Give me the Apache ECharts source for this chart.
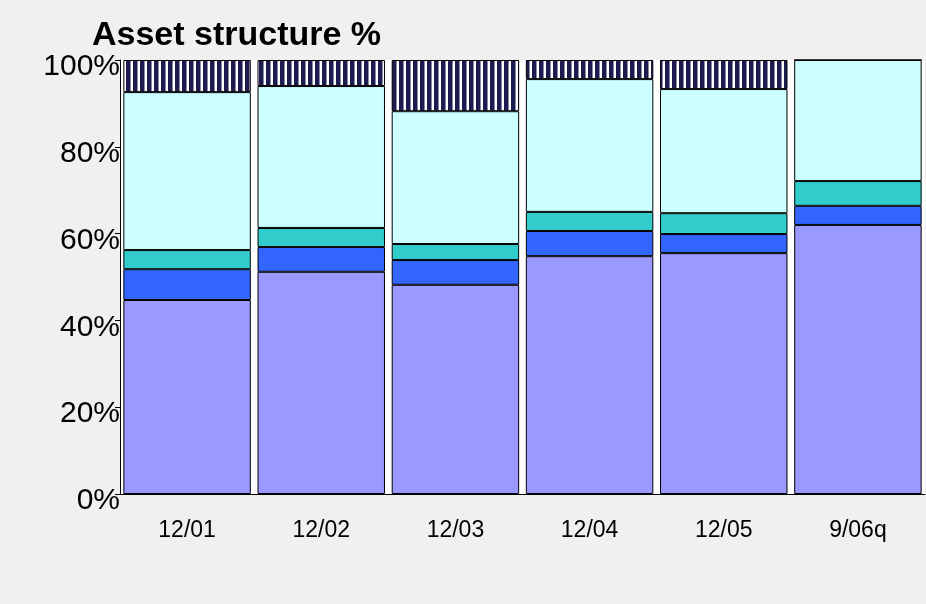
<!DOCTYPE html>
<html>
<head>
<meta charset="utf-8">
<script src="https://cdn.jsdelivr.net/npm/echarts@6/dist/echarts.min.js"></script>
<style>
html, body { margin: 0; padding: 0; background: #f0f0f0; }
#main { width: 926px; height: 604px; }
</style>
</head>
<body>
<div id="main"></div>
<script>
var categories = ['12/01', '12/02', '12/03', '12/04', '12/05', '9/06q'];
var purpleVals = [44.7, 51.2, 48.2, 54.8, 55.5, 62.0];
var blueVals = [7.1, 5.7, 5.7, 5.8, 4.4, 4.4];
var tealVals = [4.4, 4.4, 3.7, 4.4, 4.8, 5.7];
var cyanVals = [36.4, 32.7, 30.6, 30.6, 28.6, 27.9];
var hatchVals = [7.4, 6.0, 11.8, 4.4, 6.7, 0];

// vertical stripe pattern for the top segment
var pat = document.createElement('canvas');
pat.width = 7;
pat.height = 7;
var ctx = pat.getContext('2d');
ctx.fillStyle = '#ffffff';
ctx.fillRect(0, 0, 7, 7);
ctx.fillStyle = '#1c1c50';
ctx.fillRect(0, 0, 4, 7);
ctx.fillStyle = '#8a8aa6';
ctx.fillRect(4, 0, 1, 7);

var font = '"Liberation Sans", Arial, sans-serif';
var dom = document.getElementById('main');
var myChart = echarts.init(dom);

function seg(name, vals, color) {
    return {
        name: name,
        type: 'bar',
        stack: 'all',
        barCategoryGap: '5%',
        data: vals,
        animation: false,
        itemStyle: {
            color: color,
            borderColor: '#000',
            borderWidth: 1
        }
    };
}

var option = {
    backgroundColor: '#f0f0f0',
    title: {
        text: 'Asset structure %',
        left: 87,
        top: 14,
        textStyle: {
            fontFamily: font,
            fontSize: 34,
            fontWeight: 'bold',
            color: '#000'
        }
    },
    grid: {
        left: 120,
        right: 1,
        top: 60,
        bottom: 110
    },
    xAxis: {
        type: 'category',
        data: categories,
        axisLine: { lineStyle: { color: '#000', width: 1 } },
        axisTick: { length: 6, lineStyle: { color: '#000' } },
        axisLabel: {
            margin: 25,
            fontFamily: font,
            fontSize: 23,
            color: '#000'
        },
        splitArea: { show: true, areaStyle: { color: ['#ffffff'] } }
    },
    yAxis: {
        type: 'value',
        min: 0,
        max: 100,
        interval: 20,
        axisLine: { show: true, lineStyle: { color: '#000', width: 1 } },
        axisTick: { show: true, length: 5, lineStyle: { color: '#000' } },
        splitLine: { show: false },
        axisLabel: {
            margin: 0,
            formatter: '{a|{value}%}',
            rich: {
                a: {
                    fontFamily: font,
                    fontSize: 30,
                    color: '#000',
                    padding: [14, 0, 0, 0]
                }
            }
        }
    },
    series: [
        seg('A', purpleVals, '#9999ff'),
        seg('B', blueVals, '#3366ff'),
        seg('C', tealVals, '#33cccc'),
        seg('D', cyanVals, '#ccffff'),
        seg('E', hatchVals, { image: pat, repeat: 'repeat' })
    ]
};
myChart.setOption(option);
</script>
</body>
</html>
